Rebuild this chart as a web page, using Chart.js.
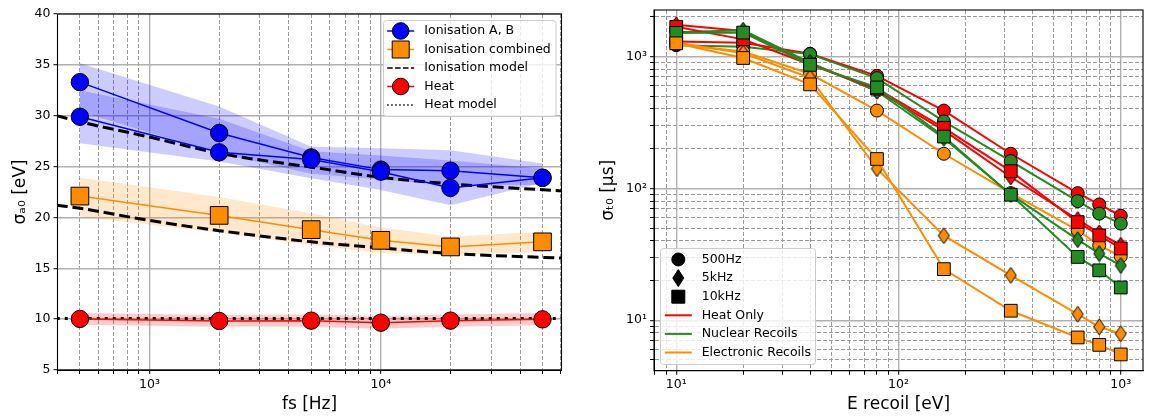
<!DOCTYPE html>
<html>
<head>
<meta charset="utf-8">
<script src="https://cdn.jsdelivr.net/npm/chart.js@4.4.1/dist/chart.umd.min.js"></script>
<style>
  html, body { margin: 0; padding: 0; background: #fff; overflow: hidden; }
  #graficoA { position: absolute; left: 0; top: 0; }
  #graficoB { position: absolute; left: 585px; top: 0; }
</style>
</head>
<body>
<canvas id="graficoA" width="575" height="419"></canvas>
<canvas id="graficoB" width="568" height="419"></canvas>
<script>
// ---- panel izquierdo: sigma_a0 vs fs ----
const fsHz = [500, 2000, 5000, 10000, 20000, 50000];
const ionA = [33.3, 28.3, 25.9, 24.7, 24.6, 23.9];
const ionAbajo = [30.4, 26.3, 24.3, 23.7, 23.2, 23.2];
const ionAarriba = [35.15, 30.9, 26.95, 26.8, 26.6, 25.3];
const ionB = [29.9, 26.4, 25.7, 24.5, 22.9, 23.9];
const ionBbajo = [27.3, 25.5, 23.85, 22.7, 21.2, 23.4];
const ionBarriba = [32.5, 29.7, 26.5, 26.1, 25.6, 24.8];
const ionComb = [22.1, 20.2, 18.8, 17.75, 17.1, 17.6];
const ionCombBajo = [20.1, 18.5, 17.3, 16.5, 16.3, 16.6];
const ionCombArriba = [23.9, 22.0, 20.4, 19.0, 18.1, 18.6];
const calor = [10.02, 9.82, 9.85, 9.65, 9.85, 9.98];
const calorBajo = [9.45, 9.25, 9.25, 9.05, 9.25, 9.4];
const calorArriba = [10.6, 10.4, 10.45, 10.3, 10.45, 10.6];

const fsModelo = [397, 500, 1000, 2000, 5000, 10000, 20000, 61000];
const modeloIonAB = [30.0, 29.4, 27.9, 26.3, 24.95, 23.95, 23.3, 22.6];
const modeloIonComb = [21.2, 20.9, 19.7, 18.7, 17.6, 17.0, 16.45, 16.0];
const fsModeloCalor = [397, 61000];
const modeloCalor = [10.07, 10.07];

const ticksFs = [400, 500, 600, 700, 800, 900, 1000, 2000, 3000, 4000, 5000, 6000, 7000, 8000, 9000,
                 10000, 20000, 30000, 40000, 50000, 60000];
const etiquetasFs = { 1000: '10³', 10000: '10⁴' };

// ---- panel derecho: sigma_t0 vs E recoil ----
const eRecoil = [10, 20, 40, 80, 160, 320, 640, 800, 1000];
const calor500 = [1300, 1270, 1050, 714, 389, 183, 92, 75.5, 62];
const calor5k = [1740, 1560, 890, 550, 275, 122, 58, 46, 37];
const calor10k = [1680, 1350, 870, 570, 288, 135, 55.5, 44, 35];
const nuc500 = [1219, 1184, 1043, 686, 322, 161, 80, 64.3, 54];
const nuc5k = [1530, 1580, 900, 545, 240, 90, 40.8, 32, 26];
const nuc10k = [1511, 1519, 865, 583, 247, 89.5, 30.2, 23.9, 17.7];
const elec500 = [1240, 1090, 740, 389, 183, 92, 48, 37, 30.5];
const elec5k = [1270, 1060, 690, 141, 43.8, 21.9, 11.1, 8.9, 7.9];
const elec10k = [1260, 975, 615, 167, 24.4, 11.8, 7.4, 6.5, 5.5];

const ticksE = [8, 9, 10, 20, 30, 40, 50, 60, 70, 80, 90, 100, 200, 300, 400, 500, 600, 700, 800, 900, 1000];
const etiquetasE = { 10: '10¹', 100: '10²', 1000: '10³' };
const ticksSigma = [5, 6, 7, 8, 9, 10, 20, 30, 40, 50, 60, 70, 80, 90, 100, 200, 300, 400, 500, 600, 700,
                    800, 900, 1000, 2000];
const etiquetasSigma = { 10: '10¹', 100: '10²', 1000: '10³' };

Chart.defaults.font.family = "'DejaVu Sans', sans-serif";
Chart.defaults.font.size = 12.5;
Chart.defaults.color = '#000';
Chart.defaults.animation = false;

const AZUL = '#0000ff', NARANJA = '#ff8c00', ROJO = '#ff0000', VERDE = '#228b22';

function pares(xs, ys) {
    return xs.map((x, i) => ({ x: x, y: ys[i] }));
}

function rombo(color, w, h) {
    const c = document.createElement('canvas');
    c.width = w + 2; c.height = h + 2;
    const g = c.getContext('2d');
    g.beginPath();
    g.moveTo(c.width / 2, 1);
    g.lineTo(c.width - 1, c.height / 2);
    g.lineTo(c.width / 2, c.height - 1);
    g.lineTo(1, c.height / 2);
    g.closePath();
    g.fillStyle = color; g.fill();
    g.lineWidth = 1; g.strokeStyle = '#000'; g.stroke();
    return c;
}

function banda(xs, ys, color) {
    return {
        data: pares(xs, ys), borderWidth: 0, pointRadius: 0,
        fill: color ? '-1' : false, backgroundColor: color || 'transparent'
    };
}

// fija el tamaño del eje y quita el relleno que Chart.js añade por las etiquetas
function tamFijo(ancho, alto) {
    return (s) => {
        if (ancho !== null) s.width = ancho;
        if (alto !== null) s.height = alto;
        s.paddingLeft = 0; s.paddingRight = 0; s.paddingTop = 0; s.paddingBottom = 0;
    };
}

function ejeLog(min, max, lista, etiquetas, titulo, ajuste) {
    return {
        type: 'logarithmic', min: min, max: max,
        afterBuildTicks: (s) => { s.ticks = lista.map(v => ({ value: v, major: v in etiquetas })); },
        afterFit: ajuste,
        ticks: { autoSkip: false, maxRotation: 0, padding: 3, callback: (v) => etiquetas[v] || '' },
        grid: {
            color: (c) => (c.tick && c.tick.major) ? '#b0b0b0' : '#9a9a9a',
            lineWidth: (c) => (c.tick && c.tick.major) ? 1.4 : 1,
            tickColor: '#000', tickWidth: 1, tickLength: 4
        },
        border: { color: '#000', width: 1, dash: (c) => (c.tick && !c.tick.major) ? [4, 2] : [] },
        title: titulo
    };
}

const marco = {
    id: 'marco',
    afterDatasetsDraw(chart) {
        const { ctx, chartArea: a } = chart;
        ctx.save();
        ctx.strokeStyle = '#000'; ctx.lineWidth = 1.1;
        ctx.strokeRect(a.left, a.top, a.right - a.left, a.bottom - a.top);
        ctx.restore();
    }
};

// iconos para la leyenda
function iconoLinea(color, ancho, dash) {
    return (ctx, cx, cy) => {
        ctx.save();
        ctx.strokeStyle = color; ctx.lineWidth = ancho; ctx.setLineDash(dash || []);
        ctx.beginPath(); ctx.moveTo(cx - 13.5, cy); ctx.lineTo(cx + 13.5, cy); ctx.stroke();
        ctx.restore();
    };
}
function iconoMarca(color, forma, tam, conLinea) {
    return (ctx, cx, cy) => {
        if (conLinea) iconoLinea(color, 1.5)(ctx, cx, cy);
        ctx.save();
        ctx.fillStyle = conLinea ? color : '#000';
        ctx.strokeStyle = '#000'; ctx.lineWidth = 1;
        ctx.beginPath();
        if (forma === 'circulo') ctx.arc(cx, cy, tam, 0, Math.PI * 2);
        else if (forma === 'cuadro') ctx.rect(cx - tam / 2, cy - tam / 2, tam, tam);
        else { ctx.moveTo(cx, cy - 8.5); ctx.lineTo(cx + 5.5, cy); ctx.lineTo(cx, cy + 8.5); ctx.lineTo(cx - 5.5, cy); ctx.closePath(); }
        ctx.fill(); ctx.stroke();
        ctx.restore();
    };
}

function leyendaCaja(cfg) {
    return {
        id: 'leyendaCaja',
        afterDraw(chart) {
            const ctx = chart.ctx;
            ctx.save();
            ctx.beginPath();
            ctx.roundRect(cfg.x, cfg.y, cfg.w, cfg.h, 3);
            ctx.fillStyle = 'rgba(255,255,255,0.8)'; ctx.fill();
            ctx.strokeStyle = '#cccccc'; ctx.lineWidth = 1; ctx.stroke();
            ctx.font = "12.5px 'DejaVu Sans'";
            ctx.textBaseline = 'middle'; ctx.fillStyle = '#000';
            cfg.items.forEach((it, i) => {
                const cy = cfg.y0 + i * cfg.dy;
                it.icono(ctx, cfg.iconX, cy);
                ctx.fillStyle = '#000';
                ctx.fillText(it.texto, cfg.textX, cy);
            });
            ctx.restore();
        }
    };
}

// ---------- gráfico izquierdo ----------
const datosA = [
    banda(fsHz, ionAbajo), banda(fsHz, ionAarriba, 'rgba(0,0,255,0.2)'),
    banda(fsHz, ionBbajo), banda(fsHz, ionBarriba, 'rgba(0,0,255,0.2)'),
    banda(fsHz, ionCombBajo), banda(fsHz, ionCombArriba, 'rgba(255,140,0,0.2)'),
    banda(fsHz, calorBajo), banda(fsHz, calorArriba, 'rgba(255,0,0,0.2)'),
    { data: pares(fsModelo, modeloIonAB), borderColor: '#000', borderWidth: 3, borderDash: [11, 4.8],
      pointRadius: 0, cubicInterpolationMode: 'monotone' },
    { data: pares(fsModelo, modeloIonComb), borderColor: '#000', borderWidth: 3, borderDash: [11, 4.8],
      pointRadius: 0, cubicInterpolationMode: 'monotone' },
    { data: pares(fsModeloCalor, modeloCalor), borderColor: '#000', borderWidth: 3, borderDash: [3, 5],
      pointRadius: 0 },
    { data: pares(fsHz, ionA), borderColor: AZUL, borderWidth: 1.5, pointRadius: 8.7,
      pointBackgroundColor: AZUL, pointBorderColor: '#000', pointBorderWidth: 1 },
    { data: pares(fsHz, ionB), borderColor: AZUL, borderWidth: 1.5, pointRadius: 8.7,
      pointBackgroundColor: AZUL, pointBorderColor: '#000', pointBorderWidth: 1 },
    { data: pares(fsHz, ionComb), borderColor: NARANJA, borderWidth: 1.5, pointRadius: 12.5, pointStyle: 'rect',
      pointBackgroundColor: NARANJA, pointBorderColor: '#000', pointBorderWidth: 1 },
    { data: pares(fsHz, calor), borderColor: ROJO, borderWidth: 1.5, pointRadius: 8.7,
      pointBackgroundColor: ROJO, pointBorderColor: '#000', pointBorderWidth: 1 }
];
datosA.forEach((d, i) => { d.order = datosA.length - i; });

new Chart(document.getElementById('graficoA'), {
    type: 'line',
    data: { datasets: datosA },
    options: {
        responsive: false, events: [],
        layout: { padding: { left: 0, top: 14, right: 12, bottom: 0 } },
        plugins: { legend: { display: false }, tooltip: { enabled: false }, filler: { drawTime: 'beforeDatasetsDraw' } },
        scales: {
            x: ejeLog(400, 60400, ticksFs, etiquetasFs,
                { display: true, text: 'fs [Hz]', font: { size: 17 }, padding: { top: 0, bottom: 4 } },
                tamFijo(null, 49)),
            y: {
                type: 'linear', min: 5, max: 40,
                afterFit: tamFijo(57.5, null),
                ticks: { stepSize: 5, padding: 3 },
                grid: { color: '#b0b0b0', lineWidth: 1.4, tickColor: '#000', tickWidth: 1, tickLength: 4 },
                border: { color: '#000', width: 1 },
                title: { display: true, text: 'σₐ₀ [eV]', font: { size: 17 }, padding: { top: 10, bottom: 0 } }
            }
        }
    },
    plugins: [marco, leyendaCaja({
        x: 383.5, y: 20.5, w: 172.5, h: 96, y0: 31, dy: 18.5, iconX: 400.7, textX: 424.3,
        items: [
            { texto: 'Ionisation A, B', icono: iconoMarca(AZUL, 'circulo', 8.3, true) },
            { texto: 'Ionisation combined', icono: iconoMarca(NARANJA, 'cuadro', 17, true) },
            { texto: 'Ionisation model', icono: iconoLinea('#000', 1.5, [5.5, 2.4]) },
            { texto: 'Heat', icono: iconoMarca(ROJO, 'circulo', 8.3, true) },
            { texto: 'Heat model', icono: iconoLinea('#000', 1.5, [1.5, 2.5]) }
        ]
    })]
});

// ---------- gráfico derecho ----------
const marcas = {
    circulo: { pointStyle: 'circle', r: 6.5 },
    rombo: { r: 6 },
    cuadro: { pointStyle: 'rect', r: 9 }
};
function serie(ys, color, forma) {
    const m = marcas[forma];
    return {
        data: pares(eRecoil, ys), borderColor: color, borderWidth: 2,
        pointStyle: forma === 'rombo' ? rombo(color, 11, 16) : m.pointStyle,
        pointRadius: m.r, pointBackgroundColor: color, pointBorderColor: '#000', pointBorderWidth: 1
    };
}
const datosB = [
    serie(calor500, ROJO, 'circulo'), serie(nuc500, VERDE, 'circulo'), serie(elec500, NARANJA, 'circulo'),
    serie(calor5k, ROJO, 'rombo'), serie(nuc5k, VERDE, 'rombo'), serie(elec5k, NARANJA, 'rombo'),
    serie(calor10k, ROJO, 'cuadro'), serie(nuc10k, VERDE, 'cuadro'), serie(elec10k, NARANJA, 'cuadro')
];
datosB.forEach((d, i) => { d.order = datosB.length - i; });

const dx = 585;
new Chart(document.getElementById('graficoB'), {
    type: 'line',
    data: { datasets: datosB },
    options: {
        responsive: false, events: [],
        layout: { padding: { left: 0, top: 9, right: 0, bottom: 0 } },
        plugins: { legend: { display: false }, tooltip: { enabled: false } },
        scales: {
            x: ejeLog(7.943, 1258.9, ticksE, etiquetasE,
                { display: true, text: 'E recoil [eV]', font: { size: 17 }, padding: { top: 0, bottom: 4 } },
                tamFijo(null, 48.3)),
            y: ejeLog(4.14, 2254, ticksSigma, etiquetasSigma,
                { display: true, text: 'σₜ₀ [μs]', font: { size: 17 }, padding: { top: 13, bottom: 0 } },
                tamFijo(69, null))
        }
    },
    plugins: [marco, leyendaCaja({
        x: 660.5 - dx, y: 248.5, w: 155, h: 116, y0: 259.5, dy: 18.6, iconX: 678.3 - dx, textX: 701.7 - dx,
        items: [
            { texto: '500Hz', icono: iconoMarca('#000', 'circulo', 6.5, false) },
            { texto: '5kHz', icono: iconoMarca('#000', 'rombo', 0, false) },
            { texto: '10kHz', icono: iconoMarca('#000', 'cuadro', 13, false) },
            { texto: 'Heat Only', icono: iconoLinea(ROJO, 2) },
            { texto: 'Nuclear Recoils', icono: iconoLinea(VERDE, 2) },
            { texto: 'Electronic Recoils', icono: iconoLinea(NARANJA, 2) }
        ]
    })]
});
</script>
</body>
</html>
